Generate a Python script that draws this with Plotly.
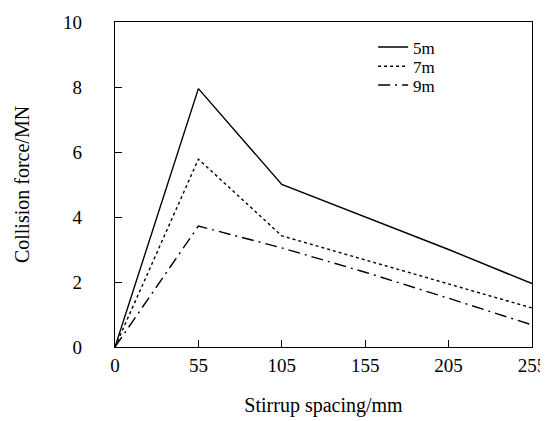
import plotly.graph_objects as go

categories = ["0", "55", "105", "155", "205", "255"]
force_5m = [0, 7.95, 5.0, 4.0, 3.0, 1.95]
force_7m = [0, 5.78, 3.42, 2.68, 1.94, 1.2]
force_9m = [0, 3.72, 3.05, 2.3, 1.5, 0.68]
series_names = ["5m", "7m", "9m"]
y_ticks = [0, 2, 4, 6, 8, 10]

FONT = "Times New Roman, Liberation Serif, DejaVu Serif, serif"

fig = go.Figure()
x_idx = list(range(len(categories)))
dashes = ["solid", "dot", "12px,5px,2px,5px"]
legend_ids = ["legend", "legend2", "legend3"]
for name, vals, dash, lg in zip(series_names, [force_5m, force_7m, force_9m], dashes, legend_ids):
    fig.add_trace(go.Scatter(
        x=x_idx, y=vals, mode="lines", name=name, legend=lg,
        line=dict(color="black", width=1.4, dash=dash),
    ))

legend_style = dict(xanchor="left", yanchor="top", bgcolor="rgba(0,0,0,0)",
                    font=dict(size=17, family=FONT))

# page body adds an 8px offset, so the figure is 540x413 with adjusted margins
fig.update_layout(
    width=540, height=413,
    margin=dict(l=107, r=16, t=14, b=74, autoexpand=False),
    paper_bgcolor="white", plot_bgcolor="white",
    font=dict(family=FONT, size=19, color="black"),
    showlegend=True,
    legend=dict(x=0.619, y=0.977, **legend_style),
    legend2=dict(x=0.619, y=0.918, **legend_style),
    legend3=dict(x=0.619, y=0.860, **legend_style),
)
fig.update_xaxes(
    range=[0, 5], tickmode="array", tickvals=x_idx, ticktext=categories,
    showgrid=False, zeroline=False, showline=True, linecolor="black", linewidth=1.2,
    mirror=True, ticks="inside", ticklen=7, tickcolor="black",
    ticklabelstandoff=1, automargin=False,
    title=dict(text="Stirrup spacing/mm", standoff=23, font=dict(size=20, family=FONT)),
)
fig.update_yaxes(
    range=[0, 10], tickmode="array", tickvals=y_ticks,
    showgrid=False, zeroline=False, showline=True, linecolor="black", linewidth=1.2,
    mirror=True, ticks="inside", ticklen=7, tickcolor="black",
    ticklabelstandoff=28, automargin=False,
    title=dict(text="Collision force/MN", standoff=28, font=dict(size=20, family=FONT)),
)

fig.write_html("out.html")
